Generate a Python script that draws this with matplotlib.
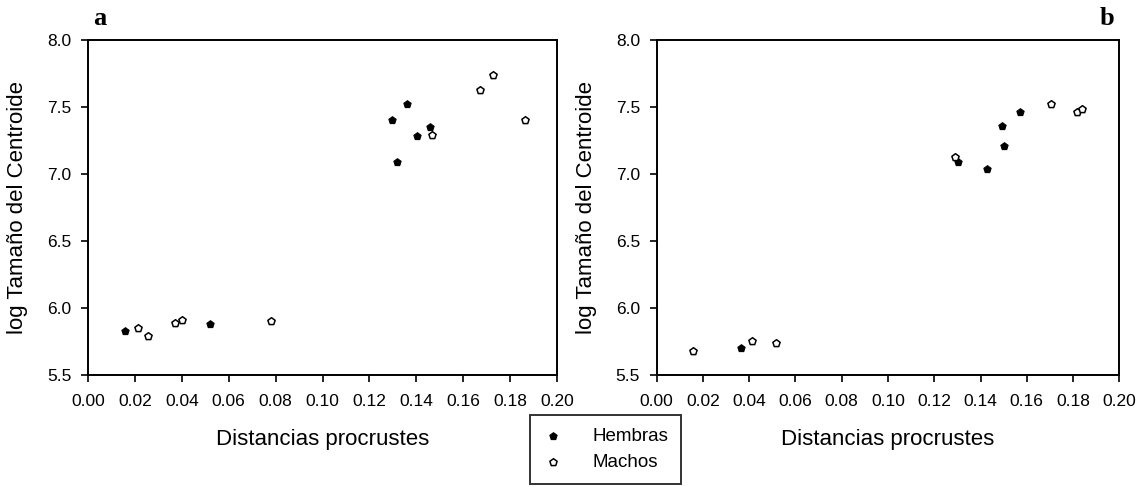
import matplotlib.pyplot as plt

plt.rcParams['font.family'] = ['Liberation Sans', 'DejaVu Sans']

# panel a
a_hem_x = [0.0157, 0.052, 0.1295, 0.1317, 0.1362, 0.1402, 0.1459]
a_hem_y = [5.83, 5.88, 7.40, 7.09, 7.52, 7.285, 7.35]
a_mac_x = [0.0214, 0.0256, 0.037, 0.0399, 0.0779, 0.1466, 0.1673, 0.1727, 0.1865]
a_mac_y = [5.85, 5.79, 5.89, 5.91, 5.90, 7.29, 7.63, 7.74, 7.40]

# panel b
b_hem_x = [0.0363, 0.1302, 0.1428, 0.1493, 0.1500, 0.1572]
b_hem_y = [5.705, 7.087, 7.037, 7.36, 7.21, 7.459]
b_mac_x = [0.0156, 0.0411, 0.0516, 0.1288, 0.1706, 0.1817, 0.1839]
b_mac_y = [5.68, 5.75, 5.735, 7.124, 7.52, 7.459, 7.484]

x_ticks = [0.00, 0.02, 0.04, 0.06, 0.08, 0.10, 0.12, 0.14, 0.16, 0.18, 0.20]
y_ticks = [5.5, 6.0, 6.5, 7.0, 7.5, 8.0]

fig = plt.figure(figsize=(11.48, 4.87), dpi=100)
ax_a = fig.add_axes([0.0767, 0.23, 0.4085, 0.688])
ax_b = fig.add_axes([0.572, 0.23, 0.403, 0.688])


def style_panel(ax, hx, hy, mx, my):
    h = ax.scatter(hx, hy, marker='p', s=30, c='black', edgecolors='black',
                   linewidths=0.8, zorder=3)
    m = ax.scatter(mx, my, marker='p', s=30, c='white', edgecolors='black',
                   linewidths=1.1, zorder=3)
    ax.set_xlim(0, 0.2)
    ax.set_ylim(5.5, 8.0)
    ax.set_xticks(x_ticks)
    ax.set_xticklabels([f'{v:.2f}' for v in x_ticks])
    ax.set_yticks(y_ticks)
    ax.set_yticklabels([f'{v:.1f}' for v in y_ticks])
    ax.tick_params(direction='out', length=5, width=1.2, labelsize=12.5,
                   colors='black')
    ax.tick_params(axis='x', pad=9)
    ax.tick_params(axis='y', pad=7)
    for sp in ax.spines.values():
        sp.set_linewidth(1.4)
    ax.set_xlabel('Distancias procrustes', fontsize=16)
    ax.set_ylabel('log Tamaño del Centroide', fontsize=16)
    ax.xaxis.set_label_coords(0.5, -0.16)
    ax.yaxis.set_label_coords(-0.128, 0.5)
    return h, m


h, m = style_panel(ax_a, a_hem_x, a_hem_y, a_mac_x, a_mac_y)
style_panel(ax_b, b_hem_x, b_hem_y, b_mac_x, b_mac_y)

fig.text(0.081, 0.949, 'a', fontsize=19, fontweight='bold',
         family='Liberation Serif', va='baseline')
fig.text(0.958, 0.949, 'b', fontsize=19, fontweight='bold',
         family='Liberation Serif', va='baseline')

leg = fig.legend([h, m], ['Hembras', 'Machos'], loc='center',
                 bbox_to_anchor=(0.5275, 0.077), frameon=True, fancybox=False,
                 edgecolor='black', fontsize=13.5, borderpad=0.7,
                 handlelength=1.0, handletextpad=1.6, labelspacing=0.45,
                 borderaxespad=0)
leg.get_frame().set_linewidth(1.4)

fig.savefig('out.png', dpi=100)
